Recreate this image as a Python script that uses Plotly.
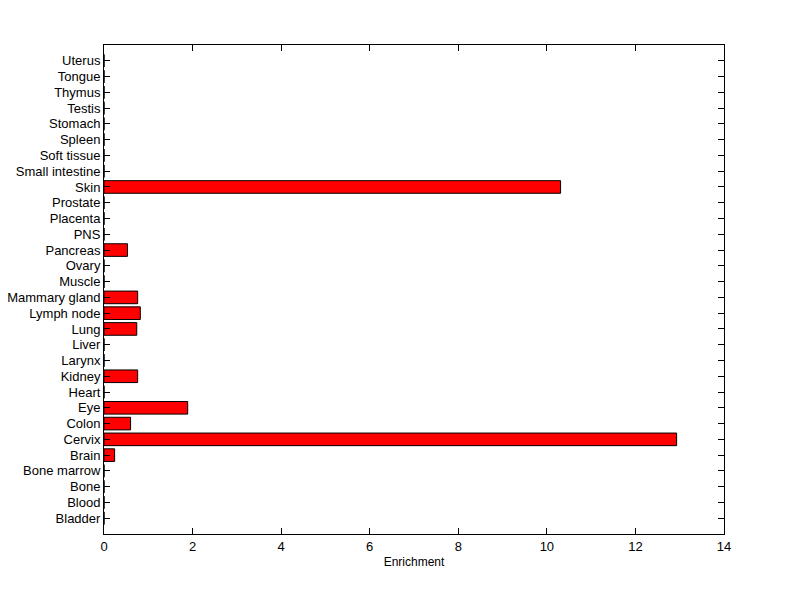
import plotly.graph_objects as go

tissues = ["Bladder", "Blood", "Bone", "Bone marrow", "Brain", "Cervix", "Colon", "Eye",
           "Heart", "Kidney", "Larynx", "Liver", "Lung", "Lymph node", "Mammary gland",
           "Muscle", "Ovary", "Pancreas", "PNS", "Placenta", "Prostate", "Skin",
           "Small intestine", "Soft tissue", "Spleen", "Stomach", "Testis", "Thymus",
           "Tongue", "Uterus"]
enrichment = [0, 0, 0, 0, 0.24, 12.93, 0.60, 1.89,
              0, 0.76, 0, 0, 0.74, 0.82, 0.76,
              0, 0, 0.53, 0, 0, 0, 10.31,
              0, 0, 0, 0, 0, 0,
              0, 0]
x_ticks = [0, 2, 4, 6, 8, 10, 12, 14]

positions = list(range(1, len(tissues) + 1))

fig = go.Figure(go.Bar(
    x=enrichment, y=positions, orientation="h", width=0.8,
    marker=dict(color="#ff0000", line=dict(color="black", width=1)),
))

fig.update_layout(
    width=800, height=599,
    paper_bgcolor="white", plot_bgcolor="white",
    margin=dict(l=104, r=76, t=45, b=65),
    font=dict(family="Liberation Sans, Arial, sans-serif", size=12, color="black"),
    showlegend=False,
)
fig.update_xaxes(
    range=[0, 14], tickvals=x_ticks, ticks="inside", ticklen=6, tickcolor="black",
    showline=True, linecolor="black", linewidth=1, mirror="ticks", showgrid=False,
    zeroline=False, automargin=False, tickfont=dict(size=13),
    title=dict(text="Enrichment", standoff=5, font=dict(size=12)),
)
fig.update_yaxes(
    range=[0, len(tissues) + 1], tickvals=positions, ticktext=tissues,
    ticks="inside", ticklen=6, tickcolor="black", tickfont=dict(size=13),
    showline=True, linecolor="black", linewidth=1, mirror="ticks", showgrid=False,
    zeroline=False, automargin=False,
)

fig.write_html("out.html", config={"displayModeBar": False},
               post_script="document.body.style.margin='0';document.body.style.overflow='hidden';")
